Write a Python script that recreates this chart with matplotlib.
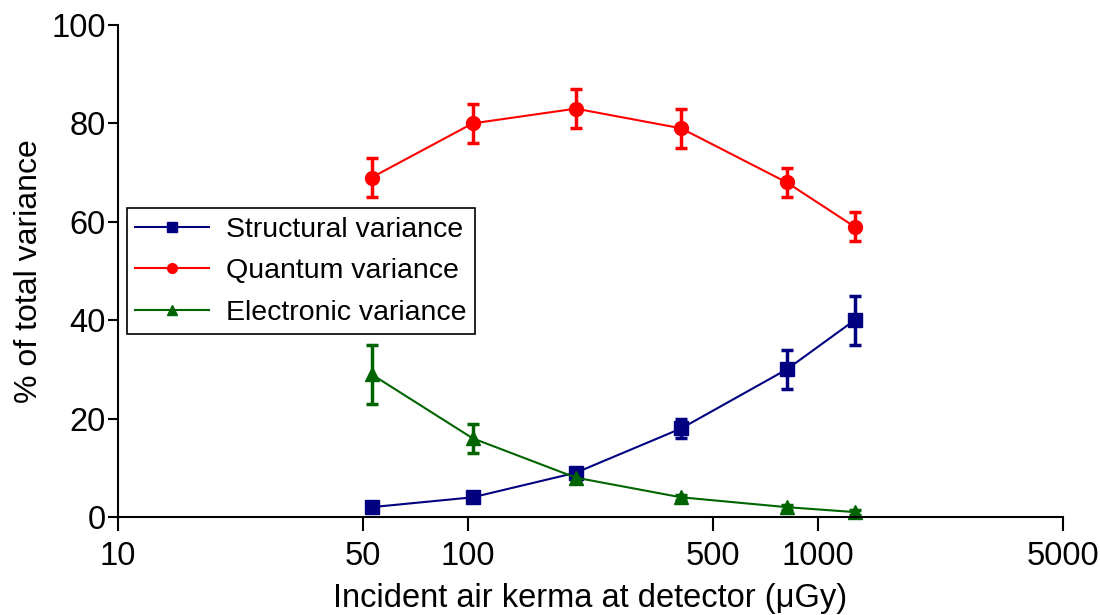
import matplotlib.pyplot as plt
from matplotlib.ticker import FixedLocator, FixedFormatter, NullLocator

plt.rcParams['font.family'] = ['Liberation Sans', 'DejaVu Sans']

dose = [53, 103, 203, 406, 813, 1270]

structural = [2, 4, 9, 18, 30, 40]
structural_err = [0.5, 0.5, 0.5, 2, 4, 5]

quantum = [69, 80, 83, 79, 68, 59]
quantum_err = [4, 4, 4, 4, 3, 3]

electronic = [29, 16, 8, 4, 2, 1]
electronic_err = [6, 3, 0.5, 0.5, 0.5, 0.5]

xticks = [10, 50, 100, 500, 1000, 5000]
xticklabels = ["10", "50", "100", "500", "1000", "5000"]

fig = plt.figure(figsize=(11, 6.15), dpi=100)
ax = fig.add_axes([118 / 1100, 1 - 517 / 615, 945 / 1100, 492 / 615])

series = [
    ("Structural variance", structural, structural_err, "#000080", "s", 9.5),
    ("Quantum variance", quantum, quantum_err, "#ff0000", "o", 10),
    ("Electronic variance", electronic, electronic_err, "#006400", "^", 10),
]

for label, y, err, color, marker, ms in series:
    ax.errorbar(dose, y, yerr=err, color=color, marker=marker, markersize=ms,
                linewidth=1.5, elinewidth=2.5, capsize=4.5, capthick=2.5,
                label=label, clip_on=False)

ax.set_xscale("log")
ax.set_xlim(10, 5000)
ax.set_ylim(0, 100)
ax.xaxis.set_major_locator(FixedLocator(xticks))
ax.xaxis.set_major_formatter(FixedFormatter(xticklabels))
ax.xaxis.set_minor_locator(NullLocator())
ax.set_yticks([0, 20, 40, 60, 80, 100])

ax.spines["top"].set_visible(False)
ax.spines["right"].set_visible(False)
ax.spines["left"].set_linewidth(1.5)
ax.spines["bottom"].set_linewidth(1.5)
ax.tick_params(axis="y", length=7, width=1.5, labelsize=23.5, pad=2)
ax.tick_params(axis="x", length=10, width=1.5, labelsize=23.5, pad=7)

ax.set_xlabel("Incident air kerma at detector (\u03bcGy)", fontsize=23.5, labelpad=8)
ax.set_ylabel("% of total variance", fontsize=23, labelpad=5)

handles, labels = ax.get_legend_handles_labels()
handles = [h[0] for h in handles]
leg = ax.legend(handles, labels, loc="upper left", bbox_to_anchor=(0.009, 0.628),
                fontsize=20.5, frameon=True, fancybox=False, edgecolor="black",
                framealpha=1, borderpad=0.3, labelspacing=0.55, handlelength=2.6,
                handletextpad=0.6, borderaxespad=0, markerscale=0.7)
leg.get_frame().set_linewidth(1.2)

fig.savefig("out.png", dpi=100)
